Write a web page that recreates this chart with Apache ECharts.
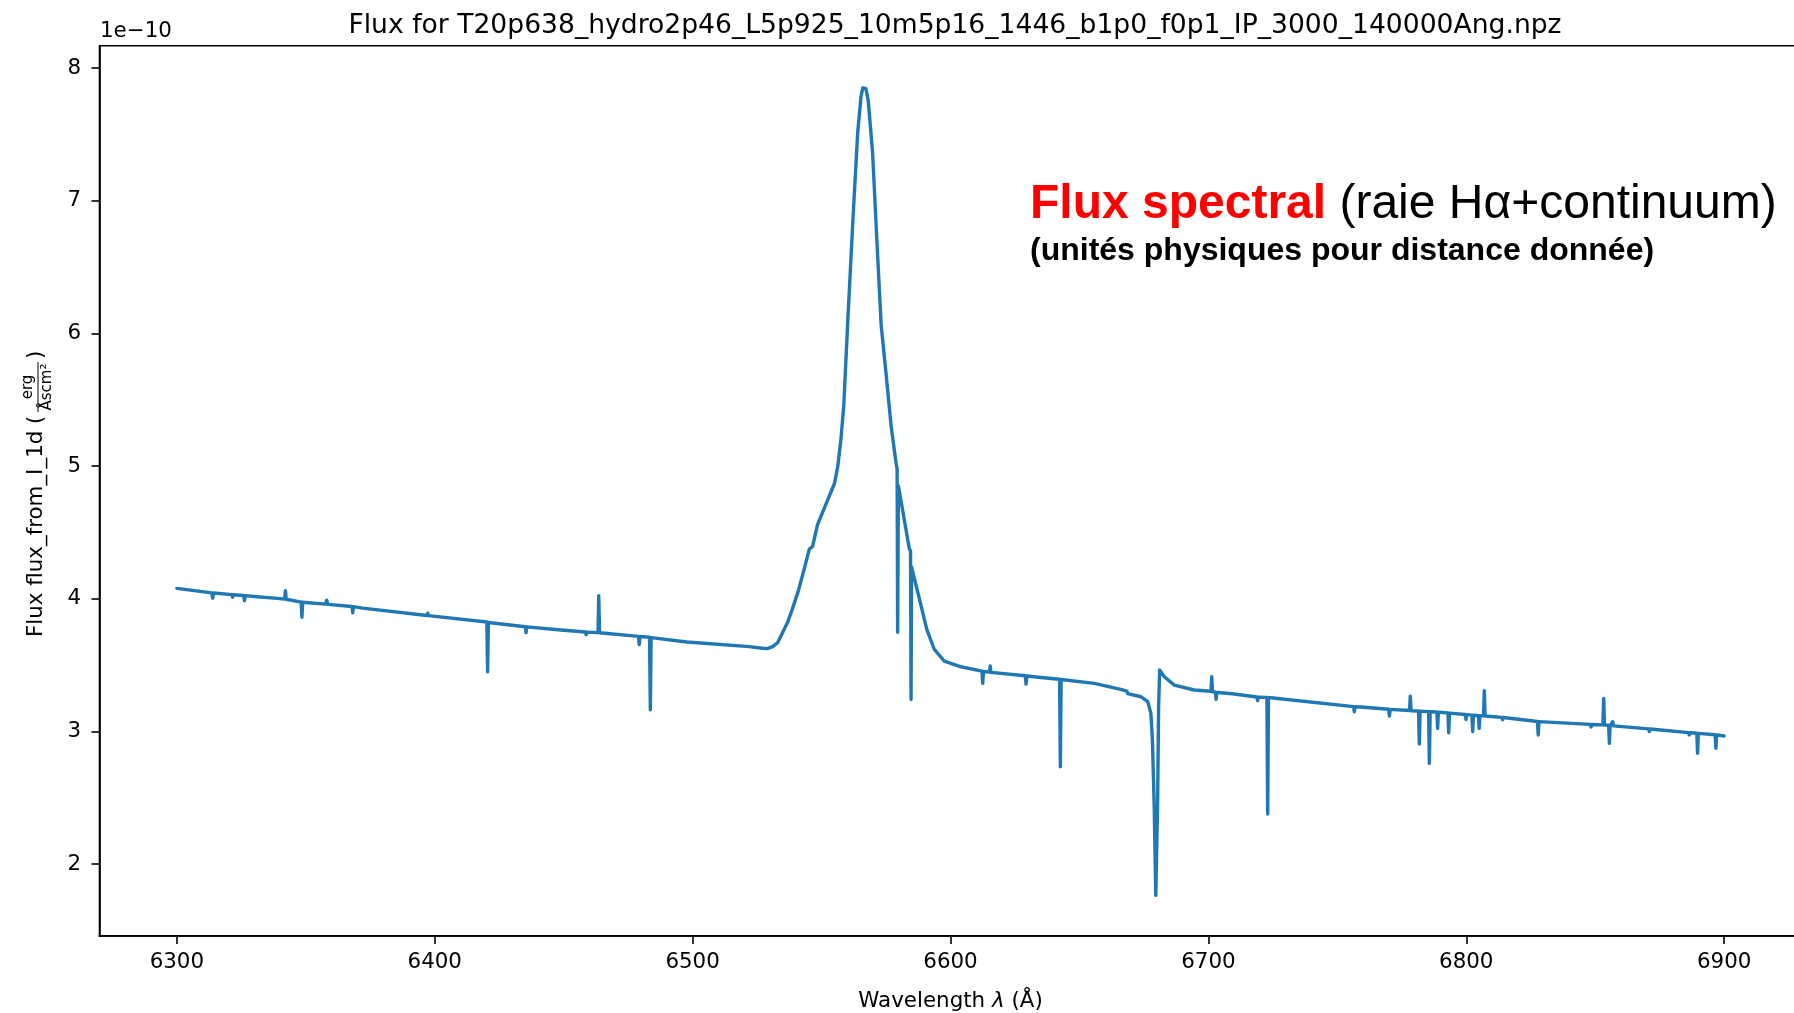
<!DOCTYPE html>
<html>
<head>
<meta charset="utf-8">
<script src="https://cdn.jsdelivr.net/npm/echarts@6/dist/echarts.min.js"></script>
<style>
html,body{margin:0;padding:0;background:#fff;}
#chart{width:1794px;height:1013px;}
</style>
</head>
<body>
<div id="chart"></div>
<script>
// ---- data (flux in units of 1e-10 erg / (Å s cm²)) ----
const wavelength = [
 6300, 6313.5, 6313.9, 6314.3, 6321.3, 6321.6, 6321.9, 6325.9, 6326.2, 6326.5,
 6330.0, 6330.3, 6330.6, 6339.0, 6339.3, 6339.6, 6341.8, 6342.1, 6342.4, 6348.2,
 6348.5, 6348.8, 6357.6, 6358.1, 6358.6, 6367.9, 6368.2, 6368.5, 6372, 6397.0,
 6397.3, 6397.6, 6420.2, 6420.5, 6420.8, 6435.1, 6435.4, 6435.7, 6449, 6458.4,
 6458.7, 6459.0, 6463.3, 6463.6, 6463.9, 6479.0, 6479.3, 6479.6, 6483.3, 6483.6,
 6483.9, 6497.8, 6498.1, 6498.4, 6522, 6527, 6529, 6531, 6532, 6533,
 6535, 6536.9, 6538.8, 6541, 6543.2, 6545.3, 6546.0, 6546.5, 6548.5, 6552.4,
 6555, 6556.3, 6557.5, 6558.6, 6560.1, 6562.1, 6564, 6565.3, 6566.0, 6566.6, 6567.2, 6568.1,
 6569.8, 6571.5, 6573.1, 6575, 6577, 6578.9, 6579.3, 6579.5, 6579.8, 6580.2,
 6584.0, 6584.5, 6584.7, 6584.9, 6585.3, 6588.6, 6590.8, 6593.7, 6597.6, 6604.1,
 6612.2, 6612.5, 6612.8, 6615.1, 6615.4, 6615.7, 6629.0, 6629.3, 6629.6, 6636.1,
 6636.4, 6636.7, 6642.3, 6642.6, 6642.9, 6655.8, 6666, 6668.4, 6668.7, 6669.0,
 6673.9, 6676.5, 6677.7, 6678.3, 6679.0, 6679.6, 6680.3, 6680.7, 6681.1, 6682.9,
 6686.8, 6694.5, 6699.7, 6701.0, 6701.3, 6701.6, 6702.7, 6703.0, 6703.3, 6704.8,
 6705.1, 6705.4, 6709.2, 6709.5, 6709.8, 6718.8, 6719.1, 6719.4, 6722.7, 6723.0,
 6723.3, 6756.3, 6756.6, 6756.9, 6759.2, 6769.9, 6770.2, 6770.5, 6778.0, 6778.3,
 6778.6, 6781.5, 6781.8, 6782.1, 6785.4, 6785.7, 6786.0, 6788.6, 6788.9, 6789.2,
 6792.9, 6793.2, 6793.5, 6799.6, 6799.9, 6800.2, 6802.2, 6802.5, 6802.8, 6804.7,
 6805.0, 6805.3, 6806.7, 6807.0, 6807.3, 6813.8, 6814.1, 6814.4, 6827.6, 6827.9,
 6828.2, 6848.1, 6848.4, 6848.7, 6853.0, 6853.3, 6853.6, 6855.2, 6855.5, 6855.8,
 6856.5, 6856.8, 6857.1, 6870.7, 6871.0, 6871.3, 6886.2, 6886.5, 6886.8, 6889.4,
 6889.7, 6890.0, 6896.5, 6896.8, 6897.1, 6900
];
const flux = [
 4.079, 4.045, 4.005, 4.044, 4.032, 4.012, 4.031, 4.025, 3.986, 4.024,
 4.018, 4.032, 4.017, 4.003, 3.990, 4.002, 3.998, 4.061, 3.997, 3.975,
 3.861, 3.974, 3.960, 3.990, 3.958, 3.942, 3.895, 3.941, 3.930, 3.874,
 3.892, 3.873, 3.825, 3.451, 3.822, 3.790, 3.745, 3.789, 3.765, 3.750,
 3.730, 3.749, 3.745, 4.024, 3.744, 3.717, 3.656, 3.716, 3.710, 3.164,
 3.708, 3.675, 3.660, 3.674, 3.640, 3.628, 3.625, 3.640, 3.655, 3.670,
 3.750, 3.825, 3.930, 4.060, 4.220, 4.377, 4.390, 4.393, 4.562, 4.746,
 4.869, 5.000, 5.200, 5.452, 6.066, 6.834, 7.510, 7.786, 7.850, 7.863, 7.845, 7.755,
 7.356, 6.681, 6.066, 5.698, 5.298, 5.022, 4.980, 3.748, 4.850, 4.807,
 4.380, 4.360, 3.241, 4.240, 4.230, 3.947, 3.770, 3.620, 3.530, 3.488,
 3.455, 3.363, 3.452, 3.448, 3.494, 3.446, 3.420, 3.358, 3.418, 3.405,
 3.420, 3.404, 3.394, 2.735, 3.392, 3.363, 3.318, 3.305, 3.285, 3.300,
 3.262, 3.225, 3.137, 2.936, 2.434, 1.765, 2.434, 3.187, 3.464, 3.413,
 3.350, 3.313, 3.305, 3.303, 3.413, 3.300, 3.297, 3.243, 3.295, 3.292,
 3.305, 3.290, 3.285, 3.298, 3.283, 3.260, 3.232, 3.259, 3.257, 2.378,
 3.256, 3.188, 3.149, 3.187, 3.185, 3.168, 3.117, 3.167, 3.158, 3.267,
 3.157, 3.155, 2.906, 3.154, 3.150, 2.760, 3.149, 3.147, 3.024, 3.146,
 3.140, 2.991, 3.139, 3.128, 3.090, 3.127, 3.124, 3.000, 3.123, 3.120,
 3.024, 3.119, 3.118, 3.308, 3.117, 3.107, 3.090, 3.106, 3.076, 2.974,
 3.075, 3.054, 3.035, 3.053, 3.050, 3.250, 3.049, 3.047, 2.911, 3.046,
 3.045, 3.074, 3.043, 3.020, 3.000, 3.019, 2.992, 2.975, 2.991, 2.987,
 2.836, 2.986, 2.976, 2.874, 2.975, 2.966
];
const xTicks = [6300, 6400, 6500, 6600, 6700, 6800, 6900];
const yTicks = [2, 3, 4, 5, 6, 7, 8];
const titleText = 'Flux for T20p638_hydro2p46_L5p925_10m5p16_1446_b1p0_f0p1_IP_3000_140000Ang.npz';
const offsetText = '1e\u221210';

const seriesData = wavelength.map((w, i) => [w, flux[i]]);
const FONT = "'DejaVu Sans', sans-serif";
const ARIAL = "'Liberation Sans', Arial, sans-serif";

const chart = echarts.init(document.getElementById('chart'), null, {renderer: 'canvas'});
chart.setOption({
  animation: false,
  backgroundColor: '#ffffff',
  title: {
    text: titleText,
    left: 950,
    textAlign: 'center',
    top: 6,
    textStyle: {fontFamily: FONT, fontSize: 26.6, fontWeight: 'normal', color: '#000', lineHeight: 30}
  },
  grid: {
    left: 99.5, right: -7.5, top: 45.7, bottom: 77.1,
    show: true, borderColor: '#000', borderWidth: 1.6, backgroundColor: 'transparent',
    containLabel: false, outerBoundsMode: 'none'
  },
  xAxis: {
    type: 'value', min: 6270, max: 6930,
    axisLine: {show: true, onZero: false, lineStyle: {color: '#000', width: 1.6}},
    axisTick: {show: true, length: 8, customValues: xTicks, lineStyle: {color: '#000', width: 1.6}},
    axisLabel: {show: true, customValues: xTicks, margin: 16, fontFamily: FONT, fontSize: 21.4, color: '#000',
      formatter: v => String(v)},
    splitLine: {show: false},
    name: '{a|Wavelength }{b|\u03bb}{a| (\u00c5)}',
    nameLocation: 'middle',
    nameGap: 55,
    nameTextStyle: {
      rich: {
        a: {fontFamily: FONT, fontSize: 21.4, color: '#000'},
        b: {fontFamily: FONT, fontSize: 21.4, color: '#000', fontStyle: 'italic'}
      }
    }
  },
  yAxis: {
    type: 'value', min: 1.46, max: 8.168,
    axisLine: {show: true, onZero: false, lineStyle: {color: '#000', width: 1.6}},
    axisTick: {show: true, length: 8, customValues: yTicks, lineStyle: {color: '#000', width: 1.6}},
    axisLabel: {show: true, customValues: yTicks, margin: 18.5, fontFamily: FONT, fontSize: 21.4, color: '#000',
      formatter: v => String(v)},
    splitLine: {show: false}
  },
  series: [{
    type: 'line',
    data: seriesData,
    showSymbol: false,
    symbol: 'none',
    smooth: false,
    clip: true,
    lineStyle: {color: '#1f77b4', width: 3.4, join: 'round', cap: 'round'},
    itemStyle: {color: '#1f77b4'},
    silent: true
  }],
  graphic: [
    {
      type: 'text', x: 100, y: 31.5,
      style: {text: offsetText, font: "21.4px 'DejaVu Sans'", fill: '#000', align: 'left', verticalAlign: 'middle'}
    },
    {
      type: 'group', x: 36.5, y: 490, rotation: Math.PI / 2,
      children: [
        {type: 'text', x: -147, y: 0,
          style: {text: 'Flux flux_from_I_1d (', font: "21.4px 'DejaVu Sans'", fill: '#000', align: 'left', verticalAlign: 'middle'}},
        {type: 'text', x: 103, y: -1,
          style: {text: 'erg', font: "15px 'DejaVu Sans'", fill: '#000', align: 'center', verticalAlign: 'bottom'}},
        {type: 'line', shape: {x1: 78, y1: 1.5, x2: 128, y2: 1.5}, style: {stroke: '#000', lineWidth: 1}},
        {type: 'text', x: 103, y: 3,
          style: {text: '\u00c5scm\u00b2', font: "15px 'DejaVu Sans'", fill: '#000', align: 'center', verticalAlign: 'top'}},
        {type: 'text', x: 131, y: 0,
          style: {text: ')', font: "21.4px 'DejaVu Sans'", fill: '#000', align: 'left', verticalAlign: 'middle'}}
      ]
    },
    {
      type: 'text', x: 1030, y: 205,
      style: {
        text: '{r|Flux spectral}{k| (raie H\u03b1+continuum)}',
        align: 'left', verticalAlign: 'middle',
        rich: {
          r: {fontFamily: ARIAL, fontSize: 48, fontWeight: 'bold', fill: '#ff0000', color: '#ff0000'},
          k: {fontFamily: ARIAL, fontSize: 48, fontWeight: 'normal', fill: '#000', color: '#000'}
        }
      }
    },
    {
      type: 'text', x: 1030, y: 251,
      style: {text: '(unit\u00e9s physiques pour distance donn\u00e9e)', font: "bold 32px 'Liberation Sans'", fill: '#000', align: 'left', verticalAlign: 'middle'}
    }
  ]
});
</script>
</body>
</html>
